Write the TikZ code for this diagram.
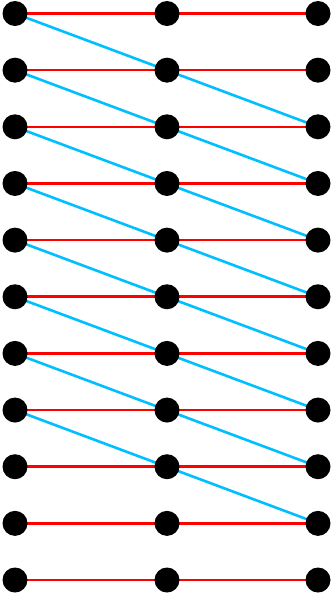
\documentclass[tikz,border=0pt]{standalone}
\usepackage{tikz}
\usetikzlibrary{backgrounds}
\definecolor{skyblue}{RGB}{0,191,255}
\tikzset{
  dot/.style={circle,fill=black,inner sep=0pt,minimum size=25pt},
  rung/.style={red,line width=2.6pt},
  skew/.style={skyblue,line width=2.6pt}
}

\begin{document}
\begin{tikzpicture}[x=1pt,y=-1pt]
  \useasboundingbox (0,0) rectangle (333,595);
  % three columns of dots
  \foreach \i in {0,...,10}{
    \pgfmathsetmacro{\Y}{13.5+56.65*\i}
    \node[dot] (l\i) at (15,\Y) {};
    \node[dot] (m\i) at (167,\Y) {};
    \node[dot] (r\i) at (318,\Y) {};
  }
  \begin{scope}[on background layer]
    % horizontal rungs
    \foreach \i in {0,...,10}
      \draw[rung] (l\i.center) -- (m\i.center) -- (r\i.center);
    % slanted links, two rows down
    \foreach \i [evaluate=\i as \j using int(\i+2)] in {0,...,7}
      \draw[skew] (l\i.center) -- (r\j.center);
  \end{scope}
\end{tikzpicture}
\end{document}
